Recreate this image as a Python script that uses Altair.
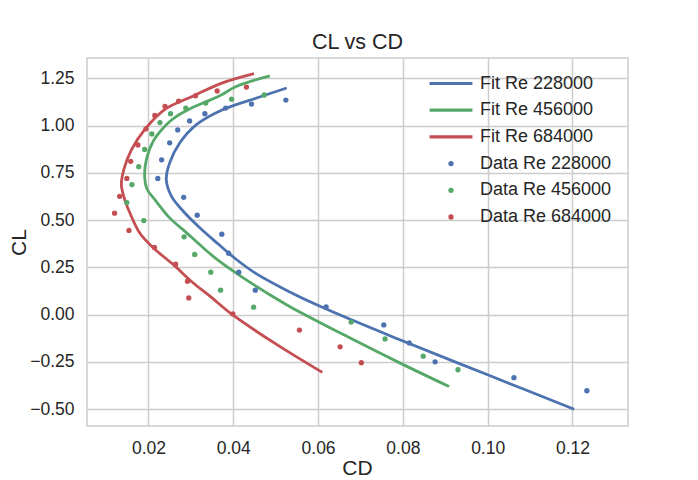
import altair as alt
import pandas as pd

BLUE = "#4C72B0"
GREEN = "#55A868"
RED = "#C44E52"
FONT = "Liberation Sans"
TXT = "#262626"

RE_LIST = ["228000", "456000", "684000"]

# measured data points
CL_DATA_228 = [1.135, 1.114, 1.093, 1.063, 1.025, 0.977, 0.909, 0.819, 0.721, 0.621, 0.526,
               0.426, 0.325, 0.225, 0.130, 0.042, -0.054, -0.149, -0.249, -0.333, -0.402]
CD_DATA_228 = [0.0524, 0.0443, 0.0382, 0.0333, 0.0297, 0.0269, 0.0250, 0.0231, 0.0222, 0.0283, 0.0315,
               0.0373, 0.0389, 0.0413, 0.0452, 0.0619, 0.0755, 0.0815, 0.0876, 0.1062, 0.1234]

CL_DATA_456 = [1.162, 1.140, 1.119, 1.093, 1.063, 1.016, 0.956, 0.874, 0.783, 0.688, 0.593,
               0.498, 0.412, 0.319, 0.225, 0.130, 0.040, -0.039, -0.128, -0.219, -0.291]
CD_DATA_456 = [0.0473, 0.0396, 0.0335, 0.0288, 0.0252, 0.0227, 0.0208, 0.0191, 0.0177, 0.0161, 0.0149,
               0.0189, 0.0284, 0.0309, 0.0347, 0.0370, 0.0448, 0.0678, 0.0758, 0.0848, 0.0930]

CL_DATA_684 = [1.204, 1.183, 1.158, 1.130, 1.102, 1.054, 0.983, 0.898, 0.811, 0.721, 0.626,
               0.537, 0.446, 0.356, 0.267, 0.177, 0.089, 0.004, -0.081, -0.170, -0.254]
CD_DATA_684 = [0.0431, 0.0362, 0.0311, 0.0271, 0.0239, 0.0215, 0.0194, 0.0175, 0.0158, 0.0149, 0.0132,
               0.0120, 0.0154, 0.0214, 0.0264, 0.0292, 0.0295, 0.0399, 0.0556, 0.0652, 0.0702]

# fit curves
CL_FIT_228 = [1.199, 1.146, 1.085, 1.005, 0.909, 0.803, 0.715, 0.627, 0.547, 0.460, 0.371,
              0.300, 0.220, 0.130, 0.039, -0.130, -0.315, -0.500]
CD_FIT_228 = [0.0526, 0.0455, 0.0376, 0.0313, 0.0274, 0.0250, 0.0242, 0.0254, 0.0282, 0.0321, 0.0366,
              0.0403, 0.0452, 0.0525, 0.0610, 0.0790, 0.0997, 0.1204]

CL_FIT_456 = [1.263, 1.208, 1.158, 1.088, 1.049, 1.005, 0.917, 0.820, 0.725, 0.662, 0.609, 0.512,
              0.433, 0.354, 0.283, 0.200, 0.100, 0.037, -0.117, -0.252, -0.380]
CD_FIT_456 = [0.0486, 0.0408, 0.0368, 0.0297, 0.0266, 0.0242, 0.0211, 0.0195, 0.0191, 0.0197, 0.0215, 0.0250,
              0.0290, 0.0329, 0.0367, 0.0420, 0.0490, 0.0538, 0.0670, 0.0790, 0.0909]

CL_FIT_684 = [1.275, 1.225, 1.158, 1.085, 0.979, 0.873, 0.768, 0.688, 0.609, 0.539, 0.433, 0.354,
              0.266, 0.169, 0.098, 0.000, -0.157, -0.305]
CD_FIT_684 = [0.0449, 0.0373, 0.0307, 0.0238, 0.0191, 0.0160, 0.0142, 0.0136, 0.0144, 0.0156, 0.0179, 0.0211,
              0.0258, 0.0305, 0.0345, 0.0398, 0.0502, 0.0610]

X_TICKS = [0.02, 0.04, 0.06, 0.08, 0.10, 0.12]
Y_TICKS = [-0.5, -0.25, 0.0, 0.25, 0.5, 0.75, 1.0, 1.25]

FIT_NAMES = [f"Fit Re {r}" for r in RE_LIST]
DATA_NAMES = [f"Data Re {r}" for r in RE_LIST]
ALL_NAMES = FIT_NAMES + DATA_NAMES

fit_rows = []
for name, cds, cls in zip(FIT_NAMES, [CD_FIT_228, CD_FIT_456, CD_FIT_684],
                          [CL_FIT_228, CL_FIT_456, CL_FIT_684]):
    for i, (cd, cl) in enumerate(zip(cds, cls)):
        fit_rows.append({"series": name, "CD": cd, "CL": cl, "i": i})
fit_df = pd.DataFrame(fit_rows)

data_rows = []
for name, cds, cls in zip(DATA_NAMES, [CD_DATA_228, CD_DATA_456, CD_DATA_684],
                          [CL_DATA_228, CL_DATA_456, CL_DATA_684]):
    for cd, cl in zip(cds, cls):
        data_rows.append({"series": name, "CD": cd, "CL": cl})
data_df = pd.DataFrame(data_rows)

x_enc = alt.X("CD:Q", scale=alt.Scale(domain=[0.0055, 0.1331], nice=False, zero=False),
              axis=alt.Axis(values=X_TICKS, format=".2f", title="CD",
                            titleX=270, titleY=48, titleBaseline="alphabetic"))
y_enc = alt.Y("CL:Q", scale=alt.Scale(domain=[-0.5885, 1.3576], nice=False, zero=False),
              axis=alt.Axis(values=Y_TICKS, format=".2f", title="CL",
                            titleX=-62, titleY=184, titleBaseline="alphabetic", titleAngle=270))

RECT = "M-8.1,-0.6L8.1,-0.6L8.1,0.6L-8.1,0.6Z"

legend = alt.Legend(title=None, orient="none", legendX=355, legendY=16.5,
                    labelFont=FONT, labelFontSize=18, labelColor=TXT,
                    symbolSize=28, symbolStrokeWidth=0, labelOffset=20, rowPadding=8.7,
                    padding=0)

lines = alt.Chart(fit_df).mark_line(strokeWidth=2.8, interpolate="catmull-rom").encode(
    x=x_enc, y=y_enc,
    stroke=alt.Stroke("series:N", scale=alt.Scale(domain=FIT_NAMES, range=[BLUE, GREEN, RED]), legend=None),
    order="i:Q",
)

points = alt.Chart(data_df).mark_point(filled=True, size=28, opacity=1).encode(
    x=x_enc, y=y_enc,
    color=alt.Color("series:N", scale=alt.Scale(domain=ALL_NAMES, range=[BLUE, GREEN, RED, BLUE, GREEN, RED]),
                    legend=legend),
    shape=alt.Shape("series:N", scale=alt.Scale(domain=ALL_NAMES, range=[RECT, RECT, RECT, "circle", "circle", "circle"]),
                    legend=legend),
)

chart = alt.layer(lines, points).properties(
    width=541, height=368,
    title=alt.Title("CL vs CD", font=FONT, fontSize=21.5, fontWeight="normal", color=TXT, offset=5),
    autosize=alt.AutoSizeParams(type="none"),
    padding={"left": 79, "top": 50, "right": 20, "bottom": 54},
    background="white",
).configure_view(
    stroke="#cccccc", strokeWidth=1.5
).configure_axis(
    grid=True, gridColor="#cccccc", gridWidth=1.5, domain=False, ticks=False, tickSize=0,
    labelFont=FONT, labelFontSize=17.5, labelColor=TXT, labelPadding=13,
    titleFont=FONT, titleFontSize=21, titleFontWeight="normal", titleColor=TXT,
)

chart.save("out.html", embed_options={"renderer": "svg", "actions": False})
